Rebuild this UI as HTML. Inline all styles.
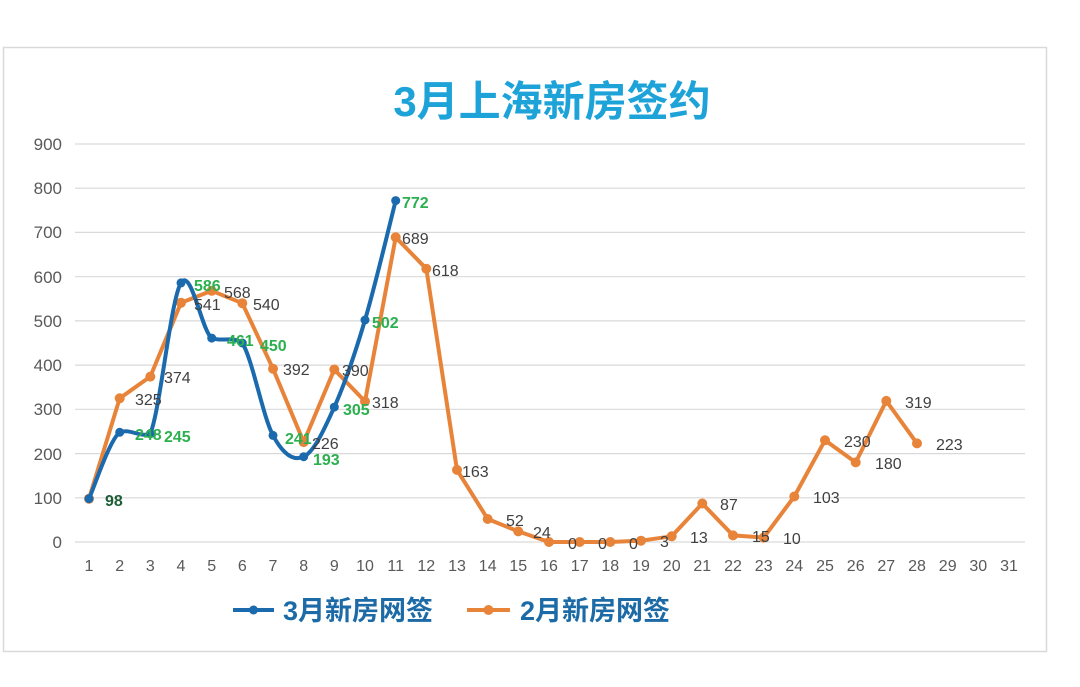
<!DOCTYPE html>
<html><head><meta charset="utf-8"><style>
body{margin:0;background:#fff;}
svg{display:block;font-family:"Liberation Sans","Noto Sans CJK SC",sans-serif;}
</style></head><body>
<svg width="1080" height="687" viewBox="0 0 1080 687">
<rect x="0" y="0" width="1080" height="687" fill="#fff"/>
<rect x="3.5" y="47.5" width="1043" height="604" fill="#fff" stroke="#d9d9d9" stroke-width="1.5"/>
<text x="552" y="116" text-anchor="middle" font-size="42" font-weight="bold" fill="#1ea3d9">3月上海新房签约</text>
<g stroke="#d9d9d9" stroke-width="1.2">
<line x1="75" x2="1025" y1="144" y2="144"/><line x1="75" x2="1025" y1="188.2" y2="188.2"/>
<line x1="75" x2="1025" y1="232.4" y2="232.4"/><line x1="75" x2="1025" y1="276.7" y2="276.7"/>
<line x1="75" x2="1025" y1="320.9" y2="320.9"/><line x1="75" x2="1025" y1="365.1" y2="365.1"/>
<line x1="75" x2="1025" y1="409.3" y2="409.3"/><line x1="75" x2="1025" y1="453.6" y2="453.6"/>
<line x1="75" x2="1025" y1="497.8" y2="497.8"/><line x1="75" x2="1025" y1="542" y2="542"/>
</g>
<g font-size="17" fill="#595959" text-anchor="end">
<text x="62" y="150">900</text><text x="62" y="194">800</text><text x="62" y="238">700</text>
<text x="62" y="283">600</text><text x="62" y="327">500</text><text x="62" y="371">400</text>
<text x="62" y="415">300</text><text x="62" y="460">200</text><text x="62" y="504">100</text>
<text x="62" y="548">0</text>
</g>
<g font-size="16" fill="#595959" text-anchor="middle">
<text x="89" y="571">1</text><text x="119.7" y="571">2</text><text x="150.3" y="571">3</text><text x="181" y="571">4</text>
<text x="211.7" y="571">5</text><text x="242.3" y="571">6</text><text x="273" y="571">7</text><text x="303.7" y="571">8</text>
<text x="334.3" y="571">9</text><text x="365" y="571">10</text><text x="395.7" y="571">11</text><text x="426.3" y="571">12</text>
<text x="457" y="571">13</text><text x="487.7" y="571">14</text><text x="518.3" y="571">15</text><text x="549" y="571">16</text>
<text x="579.7" y="571">17</text><text x="610.3" y="571">18</text><text x="641" y="571">19</text><text x="671.7" y="571">20</text>
<text x="702.3" y="571">21</text><text x="733" y="571">22</text><text x="763.7" y="571">23</text><text x="794.3" y="571">24</text>
<text x="825" y="571">25</text><text x="855.7" y="571">26</text><text x="886.3" y="571">27</text><text x="917" y="571">28</text>
<text x="947.7" y="571">29</text><text x="978.3" y="571">30</text><text x="1009" y="571">31</text>
</g>
<polyline fill="none" stroke="#e8843a" stroke-width="4" stroke-linejoin="round" points="89,498.7 119.7,398.3 150.3,376.6 181,302.8 211.7,290.8 242.3,303.2 273,368.7 303.7,442.1 334.3,369.5 365,401.4 395.7,237.3 426.3,268.7 457,469.9 487.7,519 518.3,531.4 549,542 579.7,542 610.3,542 641,540.7 671.7,536.3 702.3,503.5 733,535.4 763.7,537.6 794.3,496.5 825,440.3 855.7,462.4 886.3,400.9 917,443.4"/>
<g fill="#e8843a">
<circle cx="89" cy="498.7" r="5"/><circle cx="119.7" cy="398.3" r="5"/><circle cx="150.3" cy="376.6" r="5"/><circle cx="181" cy="302.8" r="5"/>
<circle cx="211.7" cy="290.8" r="5"/><circle cx="242.3" cy="303.2" r="5"/><circle cx="273" cy="368.7" r="5"/><circle cx="303.7" cy="442.1" r="5"/>
<circle cx="334.3" cy="369.5" r="5"/><circle cx="365" cy="401.4" r="5"/><circle cx="395.7" cy="237.3" r="5"/><circle cx="426.3" cy="268.7" r="5"/>
<circle cx="457" cy="469.9" r="5"/><circle cx="487.7" cy="519" r="5"/><circle cx="518.3" cy="531.4" r="5"/><circle cx="549" cy="542" r="5"/>
<circle cx="579.7" cy="542" r="5"/><circle cx="610.3" cy="542" r="5"/><circle cx="641" cy="540.7" r="5"/><circle cx="671.7" cy="536.3" r="5"/>
<circle cx="702.3" cy="503.5" r="5"/><circle cx="733" cy="535.4" r="5"/><circle cx="763.7" cy="537.6" r="5"/><circle cx="794.3" cy="496.5" r="5"/>
<circle cx="825" cy="440.3" r="5"/><circle cx="855.7" cy="462.4" r="5"/><circle cx="886.3" cy="400.9" r="5"/><circle cx="917" cy="443.4" r="5"/>
</g>
<path fill="none" stroke="#1a6aad" stroke-width="4" stroke-linejoin="round" d="M89,498.7 C94.1,487.6 109.5,440 119.7,432.3 C129.9,428 140.1,438 150.3,433.7 C160.5,408.8 170.8,298.8 181,282.9 C191.2,267 201.5,330 211.7,338.1 C221.9,342 232.1,336 242.3,343 C252.5,359.2 262.8,416.4 273,435.4 C283.2,454.4 293.5,461.4 303.7,456.7 C313.9,452 324.1,429.9 334.3,407.1 C344.5,384.3 354.8,354.4 365,320 C375.2,285.6 390.6,220.5 395.7,200.6"/>
<g fill="#1a6aad">
<circle cx="89" cy="498.7" r="4.5"/><circle cx="119.7" cy="432.3" r="4.5"/><circle cx="150.3" cy="433.7" r="4.5"/><circle cx="181" cy="282.9" r="4.5"/>
<circle cx="211.7" cy="338.1" r="4.5"/><circle cx="242.3" cy="343" r="4.5"/><circle cx="273" cy="435.4" r="4.5"/><circle cx="303.7" cy="456.7" r="4.5"/>
<circle cx="334.3" cy="407.1" r="4.5"/><circle cx="365" cy="320" r="4.5"/><circle cx="395.7" cy="200.6" r="4.5"/>
</g>
<g font-size="16" fill="#404040">
<text x="135" y="405">325</text><text x="164" y="383">374</text><text x="194" y="310">541</text><text x="224" y="298">568</text>
<text x="253" y="310">540</text><text x="283" y="375">392</text><text x="312" y="449">226</text><text x="342" y="376">390</text>
<text x="372" y="408">318</text><text x="402" y="244">689</text><text x="432" y="276">618</text><text x="462" y="477">163</text>
<text x="506" y="526">52</text><text x="533" y="538">24</text><text x="568" y="549">0</text><text x="598" y="549">0</text>
<text x="629" y="549">0</text><text x="660" y="547">3</text><text x="690" y="543">13</text><text x="720" y="510">87</text>
<text x="752" y="542">15</text><text x="783" y="544">10</text><text x="813" y="503">103</text><text x="844" y="447">230</text>
<text x="875" y="469">180</text><text x="905" y="408">319</text><text x="936" y="450">223</text>
</g>
<g font-size="16" font-weight="bold" fill="#2bb04f">
<text x="105" y="506" fill="#1d5e37">98</text><text x="135" y="440">248</text><text x="164" y="442">245</text>
<text x="194" y="291">586</text><text x="227" y="346">461</text><text x="260" y="351">450</text><text x="285" y="444">241</text>
<text x="313" y="465">193</text><text x="343" y="415">305</text><text x="372" y="328">502</text><text x="402" y="208">772</text>
</g>
<line x1="233" y1="610" x2="274" y2="610" stroke="#1a6aad" stroke-width="4"/><circle cx="253.5" cy="610" r="4.5" fill="#1a6aad"/>
<text x="283" y="620" font-size="27" font-weight="bold" fill="#1c6aa6">3月新房网签</text>
<line x1="467" y1="610" x2="510" y2="610" stroke="#e8843a" stroke-width="4"/><circle cx="488.5" cy="610" r="5" fill="#e8843a"/>
<text x="520" y="620" font-size="27" font-weight="bold" fill="#1c6aa6">2月新房网签</text>
</svg>
</body></html>
